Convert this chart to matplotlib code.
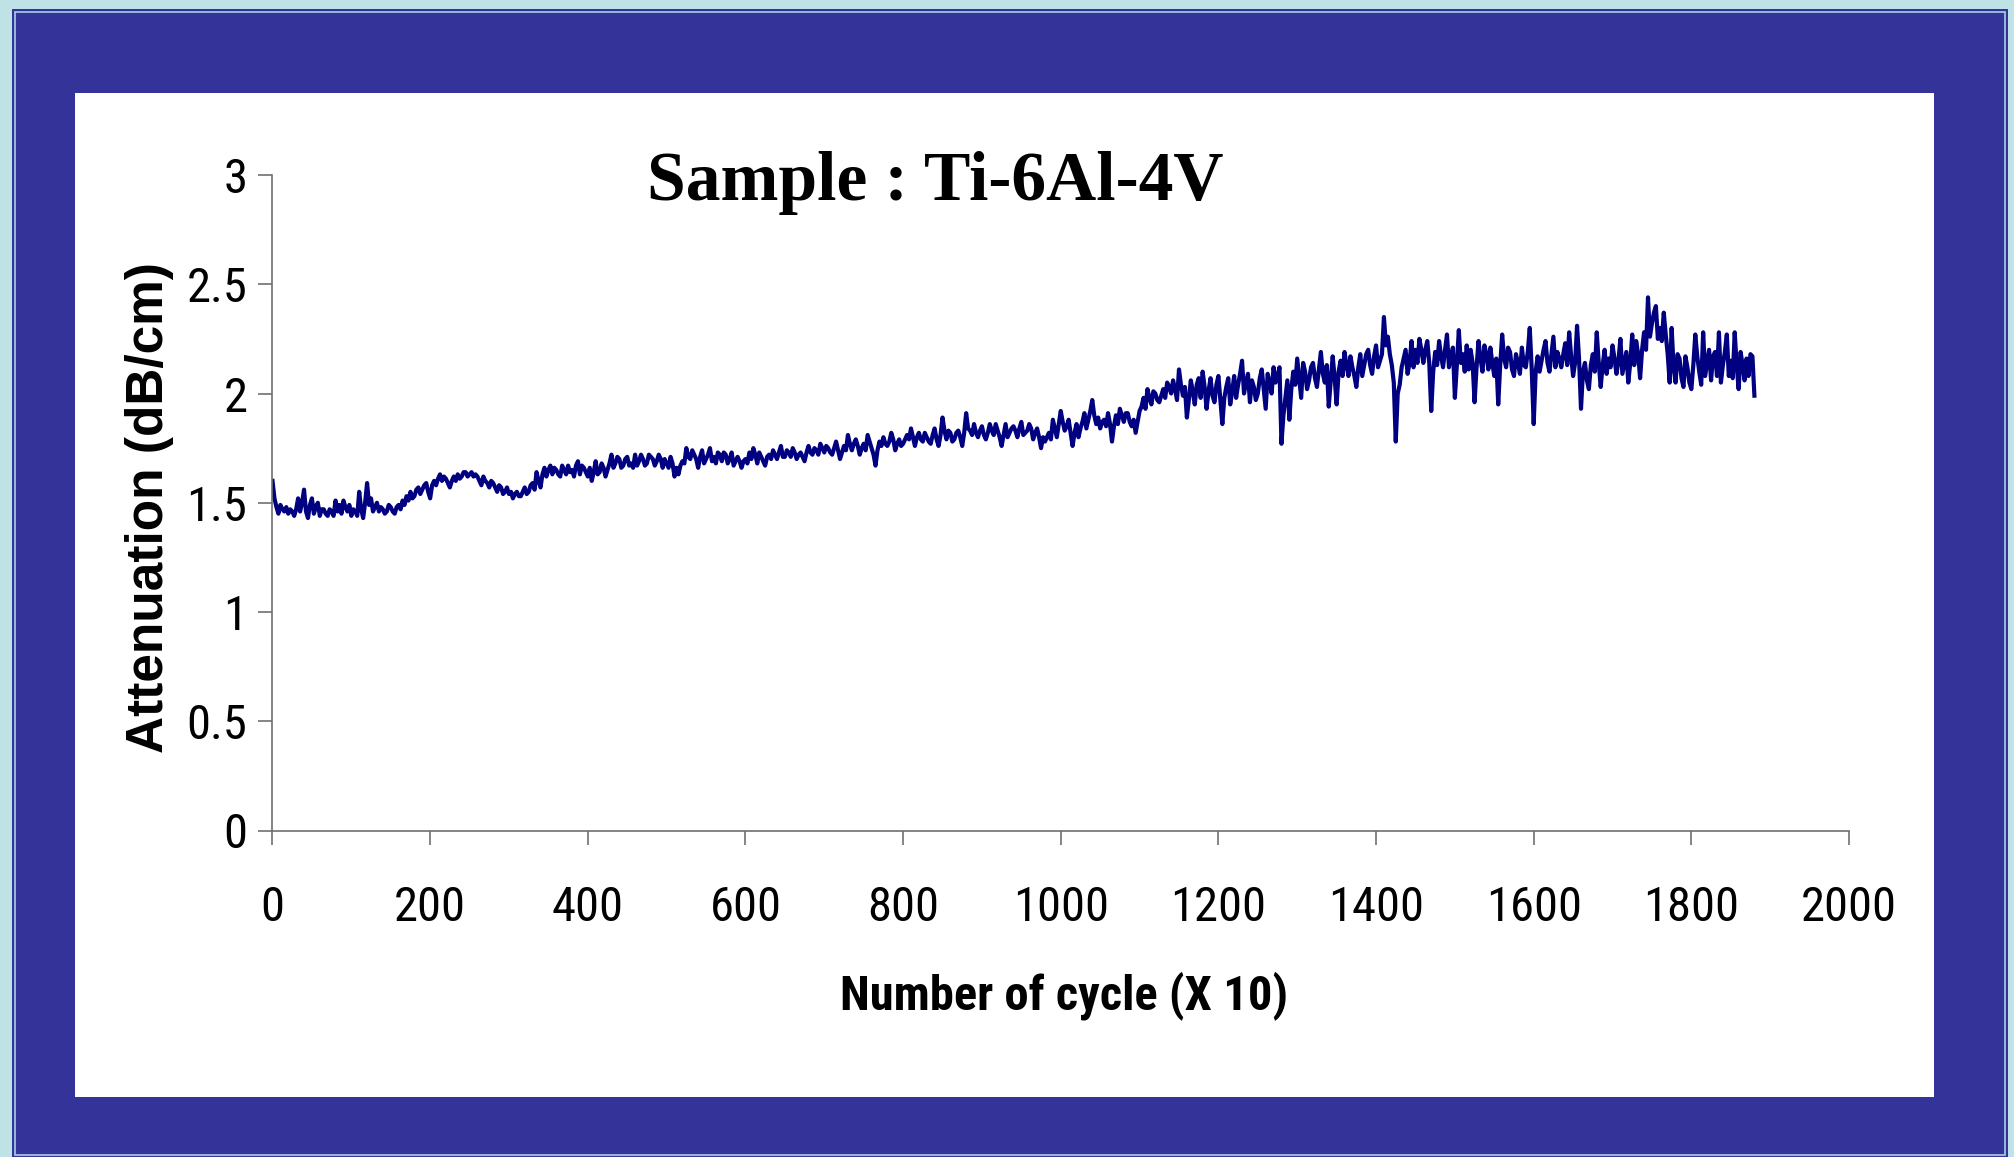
import numpy as np
import matplotlib as mpl
mpl.use('Agg')
import matplotlib.pyplot as plt
from matplotlib.patches import Rectangle
from matplotlib import font_manager

# attenuation readings every 5 cycles (x 10)
att_a = [1.60, 1.48, 1.49, 1.46, 1.45, 1.46, 1.47, 1.46, 1.56, 1.43,
         1.52, 1.48, 1.44, 1.47, 1.44, 1.46, 1.51, 1.49, 1.51, 1.46,
         1.44, 1.46, 1.55, 1.43, 1.59, 1.52, 1.48, 1.46, 1.47, 1.46,
         1.48, 1.45, 1.49, 1.51, 1.53, 1.55, 1.53, 1.57, 1.56, 1.59,
         1.52, 1.60, 1.61, 1.60, 1.61, 1.57, 1.62, 1.63, 1.62, 1.64,
         1.63, 1.62, 1.62, 1.58, 1.60, 1.57, 1.59, 1.55, 1.57, 1.55,
         1.54, 1.52, 1.55, 1.53, 1.57, 1.55, 1.59, 1.64, 1.57, 1.66,
         1.65, 1.63, 1.65, 1.62, 1.65, 1.67, 1.65]
att_b = [1.67, 1.63, 1.66, 1.62, 1.60, 1.69, 1.64, 1.66, 1.65, 1.72,
         1.68, 1.70, 1.67, 1.71, 1.68, 1.72, 1.69, 1.70, 1.68, 1.71,
         1.67, 1.72, 1.66, 1.68, 1.71, 1.62, 1.63, 1.69, 1.75, 1.70,
         1.72, 1.66, 1.74, 1.70, 1.75, 1.71, 1.73, 1.69, 1.72, 1.70,
         1.67, 1.71, 1.66, 1.70, 1.73, 1.75, 1.68, 1.71, 1.67, 1.72,
         1.74, 1.70, 1.76, 1.71, 1.73, 1.75, 1.70, 1.73, 1.69, 1.76,
         1.72, 1.74, 1.77, 1.73, 1.75, 1.72, 1.78, 1.70, 1.76, 1.81,
         1.74, 1.79, 1.72, 1.77, 1.81]
att_c = [1.75, 1.67, 1.78, 1.80, 1.76, 1.82, 1.74, 1.79, 1.77, 1.81,
         1.84, 1.76, 1.82, 1.78, 1.80, 1.77, 1.84, 1.76, 1.89, 1.79,
         1.82, 1.79, 1.83, 1.76, 1.91, 1.83, 1.86, 1.80, 1.85, 1.79,
         1.86, 1.81, 1.83, 1.76, 1.86, 1.82, 1.85, 1.80, 1.87, 1.82,
         1.86, 1.79, 1.84, 1.75, 1.78, 1.82, 1.88, 1.80, 1.92, 1.83,
         1.88, 1.76, 1.86, 1.84, 1.91, 1.88, 1.97, 1.86, 1.84, 1.88,
         1.91, 1.78, 1.90, 1.93, 1.87, 1.91, 1.85, 1.82, 1.92, 1.98,
         2.02, 1.95, 2.00, 1.96, 2.02, 2.05, 2.00]
att_d = [2.02, 2.11, 1.99, 1.89, 2.06, 1.95, 2.07, 2.10, 1.93, 2.07,
         1.96, 2.08, 1.86, 2.03, 1.95, 2.08, 2.04, 2.15, 2.05, 1.96,
         2.03, 2.00, 2.11, 1.93, 2.05, 2.12, 2.08, 1.77, 1.98, 1.88,
         2.10, 2.16, 1.98, 2.10, 2.06, 2.14, 2.03, 2.19, 2.05, 1.94,
         2.17, 1.95, 2.15, 2.19, 2.08, 2.12, 2.03, 2.18, 2.13, 2.20,
         2.09, 2.22, 2.15, 2.35, 2.26, 2.13, 1.78, 2.04, 2.16, 2.09,
         2.24, 2.20, 2.25, 2.14, 2.24, 1.92, 2.19, 2.24, 2.12, 2.27,
         2.17, 1.98, 2.29, 2.18, 2.22]
att_e = [2.20, 1.96, 2.24, 2.10, 2.18, 2.21, 2.08, 1.95, 2.27, 2.12,
         2.19, 2.08, 2.14, 2.21, 2.12, 2.30, 1.86, 2.17, 2.15, 2.24,
         2.10, 2.26, 2.19, 2.12, 2.23, 2.28, 2.08, 2.31, 1.93, 2.14,
         2.02, 2.18, 2.28, 2.03, 2.20, 2.16, 2.22, 2.09, 2.25, 2.14,
         2.05, 2.27, 2.24, 2.07, 2.28, 2.44, 2.32, 2.40, 2.30, 2.37,
         2.18, 2.30, 2.05, 2.16, 2.03, 2.12, 2.02, 2.27, 2.10, 2.28,
         2.14, 2.06, 2.19, 2.28, 2.13, 2.27, 2.15, 2.28, 2.02, 2.13,
         2.16, 2.18, 1.99]

# in-between readings (other side of the noise band), at 2.5, 7.5, ...
mid_a = [1.52, 1.45, 1.47, 1.48, 1.47, 1.44, 1.52, 1.50, 1.46, 1.49,
         1.45, 1.50, 1.47, 1.45, 1.47, 1.44, 1.46, 1.45, 1.48, 1.49,
         1.47, 1.44, 1.47, 1.50, 1.49, 1.46, 1.50, 1.48, 1.45, 1.49,
         1.46, 1.48, 1.47, 1.49, 1.51, 1.52, 1.56, 1.54, 1.58, 1.55,
         1.58, 1.58, 1.63, 1.62, 1.59, 1.60, 1.60, 1.61, 1.64, 1.62,
         1.64, 1.63, 1.60, 1.62, 1.59, 1.60, 1.57, 1.58, 1.54, 1.57,
         1.55, 1.54, 1.53, 1.55, 1.54, 1.58, 1.56, 1.60, 1.63, 1.62,
         1.67, 1.66, 1.63, 1.67, 1.63, 1.64]
mid_b = [1.62, 1.69, 1.67, 1.64, 1.66, 1.64, 1.63, 1.68, 1.62, 1.68,
         1.66, 1.71, 1.66, 1.70, 1.67, 1.66, 1.67, 1.72, 1.67, 1.72,
         1.70, 1.69, 1.70, 1.70, 1.66, 1.68, 1.66, 1.67, 1.68, 1.71,
         1.74, 1.70, 1.71, 1.68, 1.72, 1.69, 1.68, 1.72, 1.73, 1.68,
         1.73, 1.69, 1.69, 1.69, 1.68, 1.70, 1.72, 1.73, 1.69, 1.71,
         1.70, 1.72, 1.73, 1.71, 1.74, 1.71, 1.73, 1.72, 1.71, 1.73,
         1.73, 1.75, 1.72, 1.75, 1.76, 1.73, 1.75, 1.74, 1.73, 1.74,
         1.77, 1.77, 1.76, 1.75, 1.74]
mid_c = [1.78, 1.72, 1.74, 1.76, 1.77, 1.78, 1.79, 1.77, 1.76, 1.79,
         1.79, 1.80, 1.80, 1.79, 1.82, 1.78, 1.81, 1.79, 1.81, 1.83,
         1.83, 1.78, 1.82, 1.80, 1.82, 1.84, 1.81, 1.82, 1.83, 1.81,
         1.82, 1.83, 1.86, 1.80, 1.81, 1.80, 1.84, 1.83, 1.84, 1.81,
         1.83, 1.84, 1.82, 1.80, 1.80, 1.80, 1.79, 1.84, 1.86, 1.87,
         1.85, 1.82, 1.82, 1.80, 1.87, 1.84, 1.92, 1.90, 1.89, 1.87,
         1.85, 1.86, 1.85, 1.86, 1.90, 1.91, 1.87, 1.88, 1.87, 1.94,
         1.93, 1.98, 2.01, 1.97, 1.99, 1.98, 2.03]
mid_d = [2.06, 1.97, 2.04, 2.03, 1.97, 2.01, 2.04, 1.98, 2.03, 2.01,
         1.99, 2.04, 1.97, 1.98, 2.07, 2.01, 1.98, 2.09, 2.00, 2.09,
         2.06, 1.97, 2.07, 2.02, 2.09, 2.00, 2.05, 2.12, 1.90, 2.06,
         2.02, 2.04, 2.07, 2.14, 2.02, 2.12, 2.07, 2.11, 2.09, 2.13,
         2.06, 2.07, 2.10, 2.08, 2.13, 2.17, 2.08, 2.12, 2.08, 2.18,
         2.13, 2.17, 2.12, 2.18, 2.22, 2.18, 2.05, 2.00, 2.12, 2.20,
         2.14, 2.12, 2.14, 2.20, 2.20, 2.14, 2.10, 2.13, 2.17, 2.20,
         2.12, 2.21, 2.13, 2.14, 2.10]
mid_e = [2.11, 2.14, 2.12, 2.16, 2.22, 2.11, 2.14, 2.16, 2.13, 2.16,
         2.21, 2.11, 2.18, 2.09, 2.13, 2.19, 2.11, 2.10, 2.10, 2.20,
         2.14, 2.18, 2.12, 2.16, 2.18, 2.13, 2.17, 2.14, 2.16, 2.10,
         2.06, 2.13, 2.10, 2.14, 2.13, 2.09, 2.12, 2.16, 2.15, 2.09,
         2.19, 2.14, 2.13, 2.18, 2.20, 2.20, 2.26, 2.37, 2.25, 2.24,
         2.27, 2.05, 2.12, 2.18, 2.07, 2.17, 2.05, 2.13, 2.17, 2.04,
         2.08, 2.20, 2.17, 2.08, 2.05, 2.19, 2.08, 2.07, 2.13, 2.19,
         2.06, 2.08, 2.17]

main_vals = np.array(att_a + att_b + att_c + att_d + att_e)
mid_vals = np.array(mid_a + mid_b + mid_c + mid_d + mid_e)
attenuation = np.empty(len(main_vals) + len(mid_vals))
attenuation[0::2] = main_vals
attenuation[1::2] = mid_vals
cycles = np.linspace(0, 1880, len(attenuation))

xticks = np.arange(0, 2001, 200)
yticks = [0, 0.5, 1, 1.5, 2, 2.5, 3]
ytick_labels = ['0', '0.5', '1', '1.5', '2', '2.5', '3']

W, H = 2015, 1157
names = set(f.name for f in font_manager.fontManager.ttflist)
narrow = 'Liberation Sans'
for cand in ['Liberation Sans Narrow', 'Roboto Condensed', 'PT Sans Narrow']:
    if cand in names:
        narrow = cand
        break

fig = plt.figure(figsize=(W / 100, H / 100), dpi=100)
fig.patch.set_facecolor('#bfe2e6')


def px_rect(x0, y0, x1, y1, **kw):
    # rectangle given in pixel coords (origin top-left)
    r = Rectangle((x0 / W, 1 - y1 / H), (x1 - x0) / W, (y1 - y0) / H,
                  transform=fig.transFigure, zorder=-10, **kw)
    fig.patches.append(r)


px_rect(12, 9, 2008, 1160, facecolor='#333399', edgecolor='none')
px_rect(15, 12, 2005, 1155, facecolor='none', edgecolor='#a9cfe6', lw=1.2)
px_rect(75, 93, 1934, 1097, facecolor='white', edgecolor='none')

ax = fig.add_axes([272.5 / W, 1 - 830.5 / H, (1849 - 272.5) / W, (830.5 - 175) / H])
ax.set_facecolor('none')
ax.plot(cycles, attenuation, color='#000080', lw=3.0, solid_joinstyle='round')

ax.set_xlim(0, 2000)
ax.set_ylim(0, 3)
ax.set_xticks(xticks)
ax.set_yticks(yticks)
ax.set_yticklabels(ytick_labels)
for s in ['top', 'right']:
    ax.spines[s].set_visible(False)
for s in ['left', 'bottom']:
    ax.spines[s].set_color('#707070')
    ax.spines[s].set_linewidth(1.2)
ax.tick_params(axis='both', direction='out', length=10, width=1.2, color='#707070')
ax.tick_params(axis='x', pad=29)
ax.tick_params(axis='y', pad=8)
for lab in ax.get_xticklabels() + ax.get_yticklabels():
    lab.set_family(narrow)
    lab.set_fontsize(35)

fig.text(935 / W, 1 - 183 / H, 'Sample : Ti-6Al-4V', family='Liberation Serif',
         fontweight='bold', fontsize=50, ha='center', va='center')
fig.text(1064 / W, 1 - 996 / H, 'Number of cycle (X 10)', family=narrow,
         fontweight='bold', fontsize=35, ha='center', va='center')
fig.text(150 / W, 1 - 508 / H, 'Attenuation (dB/cm)', family='Liberation Sans',
         fontweight='bold', fontsize=37, rotation=90, ha='center', va='center')

fig.savefig('out.png', dpi=100, facecolor=fig.get_facecolor())
